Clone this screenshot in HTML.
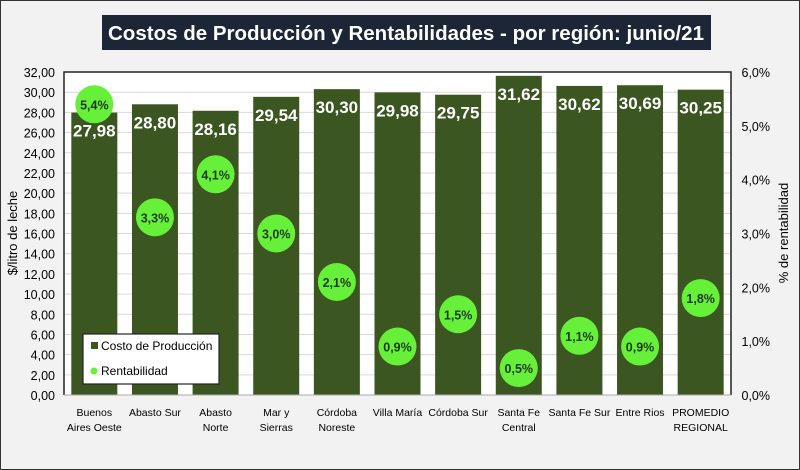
<!DOCTYPE html>
<html><head><meta charset="utf-8"><style>
body{margin:0;width:800px;height:470px;overflow:hidden;background:#fff;font-family:"Liberation Sans",sans-serif}
#wrap{position:absolute;left:0;top:0;width:798px;height:468px;border:1px solid #333;background:#f2f2f2}
</style></head><body>
<div id="wrap">
<svg id="chart" width="800" height="470" style="position:absolute;left:-1px;top:-1px"></svg>
</div>
<script>
const categories=[["Buenos","Aires Oeste"],["Abasto Sur"],["Abasto","Norte"],["Mar y","Sierras"],["Córdoba","Noreste"],["Villa María"],["Córdoba Sur"],["Santa Fe","Central"],["Santa Fe Sur"],["Entre Rios"],["PROMEDIO","REGIONAL"]];
const costs=[27.98,28.80,28.16,29.54,30.30,29.98,29.75,31.62,30.62,30.69,30.25];
const rent=[5.4,3.3,4.1,3.0,2.1,0.9,1.5,0.5,1.1,0.9,1.8];
const leftTicks=[0,2,4,6,8,10,12,14,16,18,20,22,24,26,28,30,32];
const rightTicks=[0,1,2,3,4,5,6];

const NS="http://www.w3.org/2000/svg";
const svg=document.getElementById('chart');
const L=64,R=731,T=72,B=395;
const yL=v=>B-v/32*(B-T);
const yR=v=>B-v/6*(B-T);
const bw=(R-L)/categories.length;
const xc=i=>L+bw*(i+0.5);
function mk(tag,attrs,parent){const e=document.createElementNS(NS,tag);for(const k in attrs)e.setAttribute(k,attrs[k]);(parent||svg).appendChild(e);return e;}
const fmt=v=>v.toFixed(2).replace('.',',');
const fmt1=v=>v.toFixed(1).replace('.',',')+'%';

const tb=mk('rect',{x:102,y:15,width:609,height:35,fill:'#1c2636'});


const tt=mk('text',{x:406,y:40,'text-anchor':'middle','font-size':20,'font-weight':'bold',fill:'#fff',textLength:596,lengthAdjust:'spacingAndGlyphs'});
tt.textContent='Costos de Producción y Rentabilidades - por región: junio/21';



const pa=mk('rect',{x:L,y:T,width:R-L,height:B-T,fill:'#fff',stroke:'none'});


leftTicks.forEach(v=>{
  const g=mk('line',{x1:L,x2:R,y1:yL(v),y2:yL(v),stroke:'#d9d9d9','stroke-width':1});
  
  
  const t=mk('text',{x:55,y:yL(v)+5,'text-anchor':'end','font-size':12.5,fill:'#000'});
  t.textContent=fmt(v);
  
  
});
rightTicks.forEach(v=>{
  const t=mk('text',{x:770,y:yR(v)+5,'text-anchor':'end','font-size':12.5,fill:'#000'});
  t.textContent=v.toFixed(1).replace('.',',')+'%';
  
  
});
const bd=mk('path',{d:`M${L},${B} L${L},${T} L${R},${T} L${R},${B}`,fill:'none',stroke:'#222','stroke-width':1.5});



costs.forEach((v,i)=>{
  const b=mk('rect',{x:xc(i)-23,y:yL(v),width:46,height:B-yL(v),fill:'#3b5620'});
  
  
  const t=mk('text',{x:xc(i),y:yL(v)+24,'text-anchor':'middle','font-size':17,'font-weight':'bold',fill:'#fff'});
  t.textContent=fmt(v);
  
  
});
mk('line',{x1:L,x2:R,y1:B,y2:B,stroke:'#aaa','stroke-width':1});
rent.forEach((v,i)=>{
  const c=mk('circle',{cx:xc(i),cy:yR(v),r:19,fill:'#66f03a'});
  
  
  const t=mk('text',{x:xc(i),y:yR(v)+5,'text-anchor':'middle','font-size':12.5,'font-weight':'bold',fill:'#1e3a10'});
  t.textContent=fmt1(v);
  
  
});
categories.forEach((c,i)=>{
  c.forEach((line,j)=>{
    const t=mk('text',{x:xc(i),y:416+j*15,'text-anchor':'middle','font-size':10.5,fill:'#000'});
    t.textContent=line;
    
    
  });
});
const yt=mk('text',{transform:'translate(17,233) rotate(-90)','text-anchor':'middle','font-size':13,fill:'#000'});
yt.textContent='$/litro de leche';


const yt2=mk('text',{transform:'translate(788,233) rotate(-90)','text-anchor':'middle','font-size':13,fill:'#000'});
yt2.textContent='% de rentabilidad';



const lg=mk('g',{});


const lr=mk('rect',{x:83,y:334,width:136,height:50,fill:'#fff',stroke:'#222','stroke-width':1.2},lg);


const ls=mk('rect',{x:91,y:342,width:7,height:7,fill:'#3b5620'},lg);


const lt=mk('text',{x:101,y:350,'font-size':12,fill:'#000'},lg);
lt.textContent='Costo de Producción';


const lc=mk('circle',{cx:94,cy:371,r:3.5,fill:'#66f03a'},lg);


const lt2=mk('text',{x:101,y:375,'font-size':12,fill:'#000'},lg);
lt2.textContent='Rentabilidad';


</script>
</body></html>
